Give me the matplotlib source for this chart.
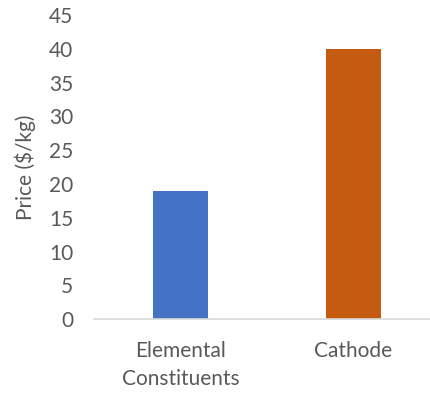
import matplotlib
matplotlib.use("Agg")
import matplotlib.pyplot as plt

categories = ["Elemental\nConstituents", "Cathode"]
prices = [19, 40]
colors = ["#4472C4", "#C55A11"]
y_ticks = [0, 5, 10, 15, 20, 25, 30, 35, 40, 45]

plt.rcParams["font.family"] = ["Lato", "DejaVu Sans"]

fig = plt.figure(figsize=(4.31, 3.94), dpi=100)
ax = fig.add_axes([0.218, 0.190, 0.803, 0.772])

x = list(range(len(categories)))
ax.bar(x, prices, width=0.318, color=colors)

ax.set_xlim(-0.5, 1.5)
ax.set_ylim(0, 45)
ax.set_yticks(y_ticks)
ax.set_xticks(x)
ax.set_xticklabels(categories, linespacing=1.5)

for side in ("top", "right", "left"):
    ax.spines[side].set_visible(False)
ax.spines["bottom"].set_color("#D9D9D9")
ax.spines["bottom"].set_linewidth(1.2)

ax.tick_params(axis="y", length=0, pad=15, labelsize=15, labelcolor="#595959")
ax.tick_params(axis="x", length=0, pad=16, labelsize=15, labelcolor="#595959")
ax.set_ylabel("Price ($/kg)", fontsize=15, color="#595959", labelpad=9)

fig.savefig("out.png", dpi=100)
